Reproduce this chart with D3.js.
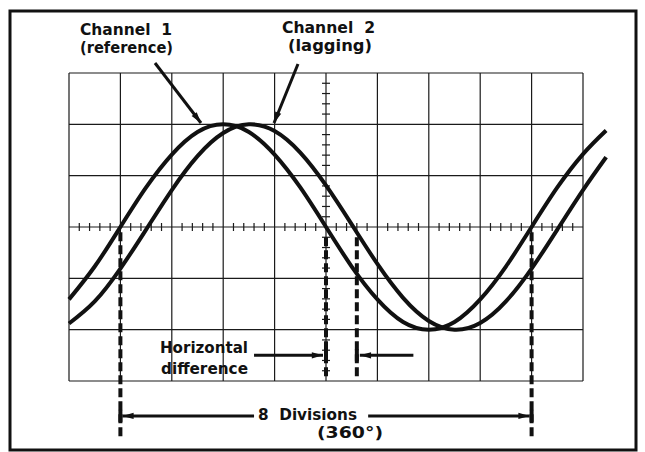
<!DOCTYPE html>
<html>
<head>
<meta charset="utf-8">
<script src="https://cdn.jsdelivr.net/npm/d3@7"></script>
<style>
  html, body { margin: 0; padding: 0; background: #fff; }
  svg { display: block; }
  text { font-family: "DejaVu Sans", sans-serif; font-weight: bold; font-size: 16px; fill: #111; }
</style>
</head>
<body>
<div id="chart"></div>
<script>
// screen graticule, in divisions
const xDivisions = [0, 1, 2, 3, 4, 5, 6, 7, 8, 9, 10]
const yDivisions = [-3, -2, -1, 0, 1, 2, 3]

// trace samples (x and y in divisions)
const sampleX = [0, 0.5, 1, 1.5, 2, 2.5, 3, 3.5, 4, 4.5, 5, 5.5, 6, 6.5, 7, 7.5, 8, 8.5, 9, 9.5, 10, 10.45]
const channel1 = [-1.41, -0.77, 0, 0.77, 1.41, 1.85, 2.0, 1.85, 1.41, 0.77, 0, -0.77, -1.41, -1.85, -2.0, -1.85, -1.41, -0.77, 0, 0.77, 1.42, 1.88]
const channel2 = [-1.88, -1.45, -0.81, -0.05, 0.72, 1.38, 1.83, 2.0, 1.87, 1.45, 0.81, 0.05, -0.72, -1.38, -1.83, -2.0, -1.87, -1.45, -0.81, -0.05, 0.72, 1.36]

// measurement markers (divisions)
const periodStart = 1
const periodEnd = 9
const diffStart = 5
const diffEnd = 5.6

const width = 645
const height = 452

const svg = d3.select('#chart')
  .append('svg')
  .attr('width', width)
  .attr('height', height)

const x = d3.scaleLinear().domain([0, 10]).range([69, 583])
const y = d3.scaleLinear().domain([-3, 3]).range([381, 73])

const defs = svg.append('defs')
defs.append('marker')
  .attr('id', 'head')
  .attr('markerUnits', 'userSpaceOnUse')
  .attr('viewBox', '0 -5 14 10')
  .attr('refX', 14)
  .attr('refY', 0)
  .attr('markerWidth', 14)
  .attr('markerHeight', 8)
  .attr('orient', 'auto')
  .append('path')
  .attr('d', 'M0,-4L14,0L0,4Z')
  .attr('fill', '#111')

// outer frame
svg.append('rect')
  .attr('x', 10)
  .attr('y', 11)
  .attr('width', 626)
  .attr('height', 439)
  .attr('fill', 'none')
  .attr('stroke', '#111')
  .attr('stroke-width', 3)

// grid
const grid = svg.append('g').attr('stroke', '#1a1a1a').attr('stroke-width', 1.2)
grid.selectAll('line.v')
  .data(xDivisions)
  .join('line')
  .attr('class', 'v')
  .attr('x1', d => x(d)).attr('x2', d => x(d))
  .attr('y1', y(3)).attr('y2', y(-3))
grid.selectAll('line.h')
  .data(yDivisions)
  .join('line')
  .attr('class', 'h')
  .attr('x1', x(0)).attr('x2', x(10))
  .attr('y1', d => y(d)).attr('y2', d => y(d))

// minor ticks on the centre axes
const minorX = d3.range(0, 10.01, 0.2).filter(d => Math.abs(d - Math.round(d)) > 0.01)
const minorY = d3.range(-3, 3.01, 0.2).filter(d => Math.abs(d - Math.round(d)) > 0.01)
grid.selectAll('line.tx')
  .data(minorX)
  .join('line')
  .attr('class', 'tx')
  .attr('x1', d => x(d)).attr('x2', d => x(d))
  .attr('y1', y(0) - 4).attr('y2', y(0) + 4)
grid.selectAll('line.ty')
  .data(minorY)
  .join('line')
  .attr('class', 'ty')
  .attr('x1', x(5) - 4).attr('x2', x(5) + 4)
  .attr('y1', d => y(d)).attr('y2', d => y(d))

// traces
const line = d3.line()
  .x((d, i) => x(sampleX[i]))
  .y(d => y(d))
  .curve(d3.curveNatural)

svg.append('g')
  .attr('fill', 'none')
  .attr('stroke', '#111')
  .attr('stroke-width', 4)
  .selectAll('path')
  .data([channel1, channel2])
  .join('path')
  .attr('d', line)

// dashed measurement lines
const dashes = [
  { at: periodStart, top: -0.1, bottom: -4.1 },
  { at: periodEnd, top: -0.1, bottom: -4.1 },
  { at: diffStart, top: -0.2, bottom: -2.92 },
  { at: diffEnd, top: -0.2, bottom: -2.92 }
]
svg.append('g')
  .attr('stroke', '#111')
  .attr('stroke-width', 4)
  .attr('stroke-dasharray', '9,4')
  .selectAll('line')
  .data(dashes)
  .join('line')
  .attr('x1', d => x(d.at)).attr('x2', d => x(d.at))
  .attr('y1', d => y(d.top)).attr('y2', d => y(d.bottom))

// arrows
const arrows = [
  // label pointers
  [155, 63, 201, 123],
  [298, 64, 274, 123],
  // horizontal difference
  [x(3.6), y(-2.5), x(diffStart) - 3, y(-2.5)],
  [x(6.7), y(-2.5), x(diffEnd) + 3, y(-2.5)],
  // 8 divisions
  [x(3.6), y(-3.68), x(periodStart) + 2, y(-3.68)],
  [x(5.82), y(-3.68), x(periodEnd) - 2, y(-3.68)]
]
svg.append('g')
  .attr('stroke', '#111')
  .attr('stroke-width', 3)
  .selectAll('line')
  .data(arrows)
  .join('line')
  .attr('x1', d => d[0]).attr('y1', d => d[1])
  .attr('x2', d => d[2]).attr('y2', d => d[3])
  .attr('marker-end', 'url(#head)')

// end bars where arrows meet the dashed lines
const bars = [
  [diffStart, -2.5], [diffEnd, -2.5], [periodStart, -3.68], [periodEnd, -3.68]
]
svg.append('g')
  .attr('stroke', '#111')
  .attr('stroke-width', 4)
  .selectAll('line')
  .data(bars)
  .join('line')
  .attr('x1', d => x(d[0])).attr('x2', d => x(d[0]))
  .attr('y1', d => y(d[1]) - 6).attr('y2', d => y(d[1]) + 6)

// labels
const labels = [
  { text: 'Channel\u00a0\u00a01', x: 80, y: 35, w: 92 },
  { text: '(reference)', x: 80, y: 53, w: 93 },
  { text: 'Channel\u00a0\u00a02', x: 282, y: 33, w: 93 },
  { text: '(lagging)', x: 288, y: 51, w: 84 },
  { text: 'Horizontal', x: 160, y: 353, w: 88 },
  { text: 'difference', x: 161, y: 374, w: 87 },
  { text: '8\u00a0\u00a0Divisions', x: 258, y: 420, w: 99 },
  { text: '(360°)', x: 317, y: 438, w: 66 }
]
svg.append('g')
  .selectAll('text')
  .data(labels)
  .join('text')
  .attr('x', d => d.x)
  .attr('y', d => d.y)
  .attr('textLength', d => d.w)
  .attr('lengthAdjust', 'spacingAndGlyphs')
  .text(d => d.text)
</script>
</body>
</html>
